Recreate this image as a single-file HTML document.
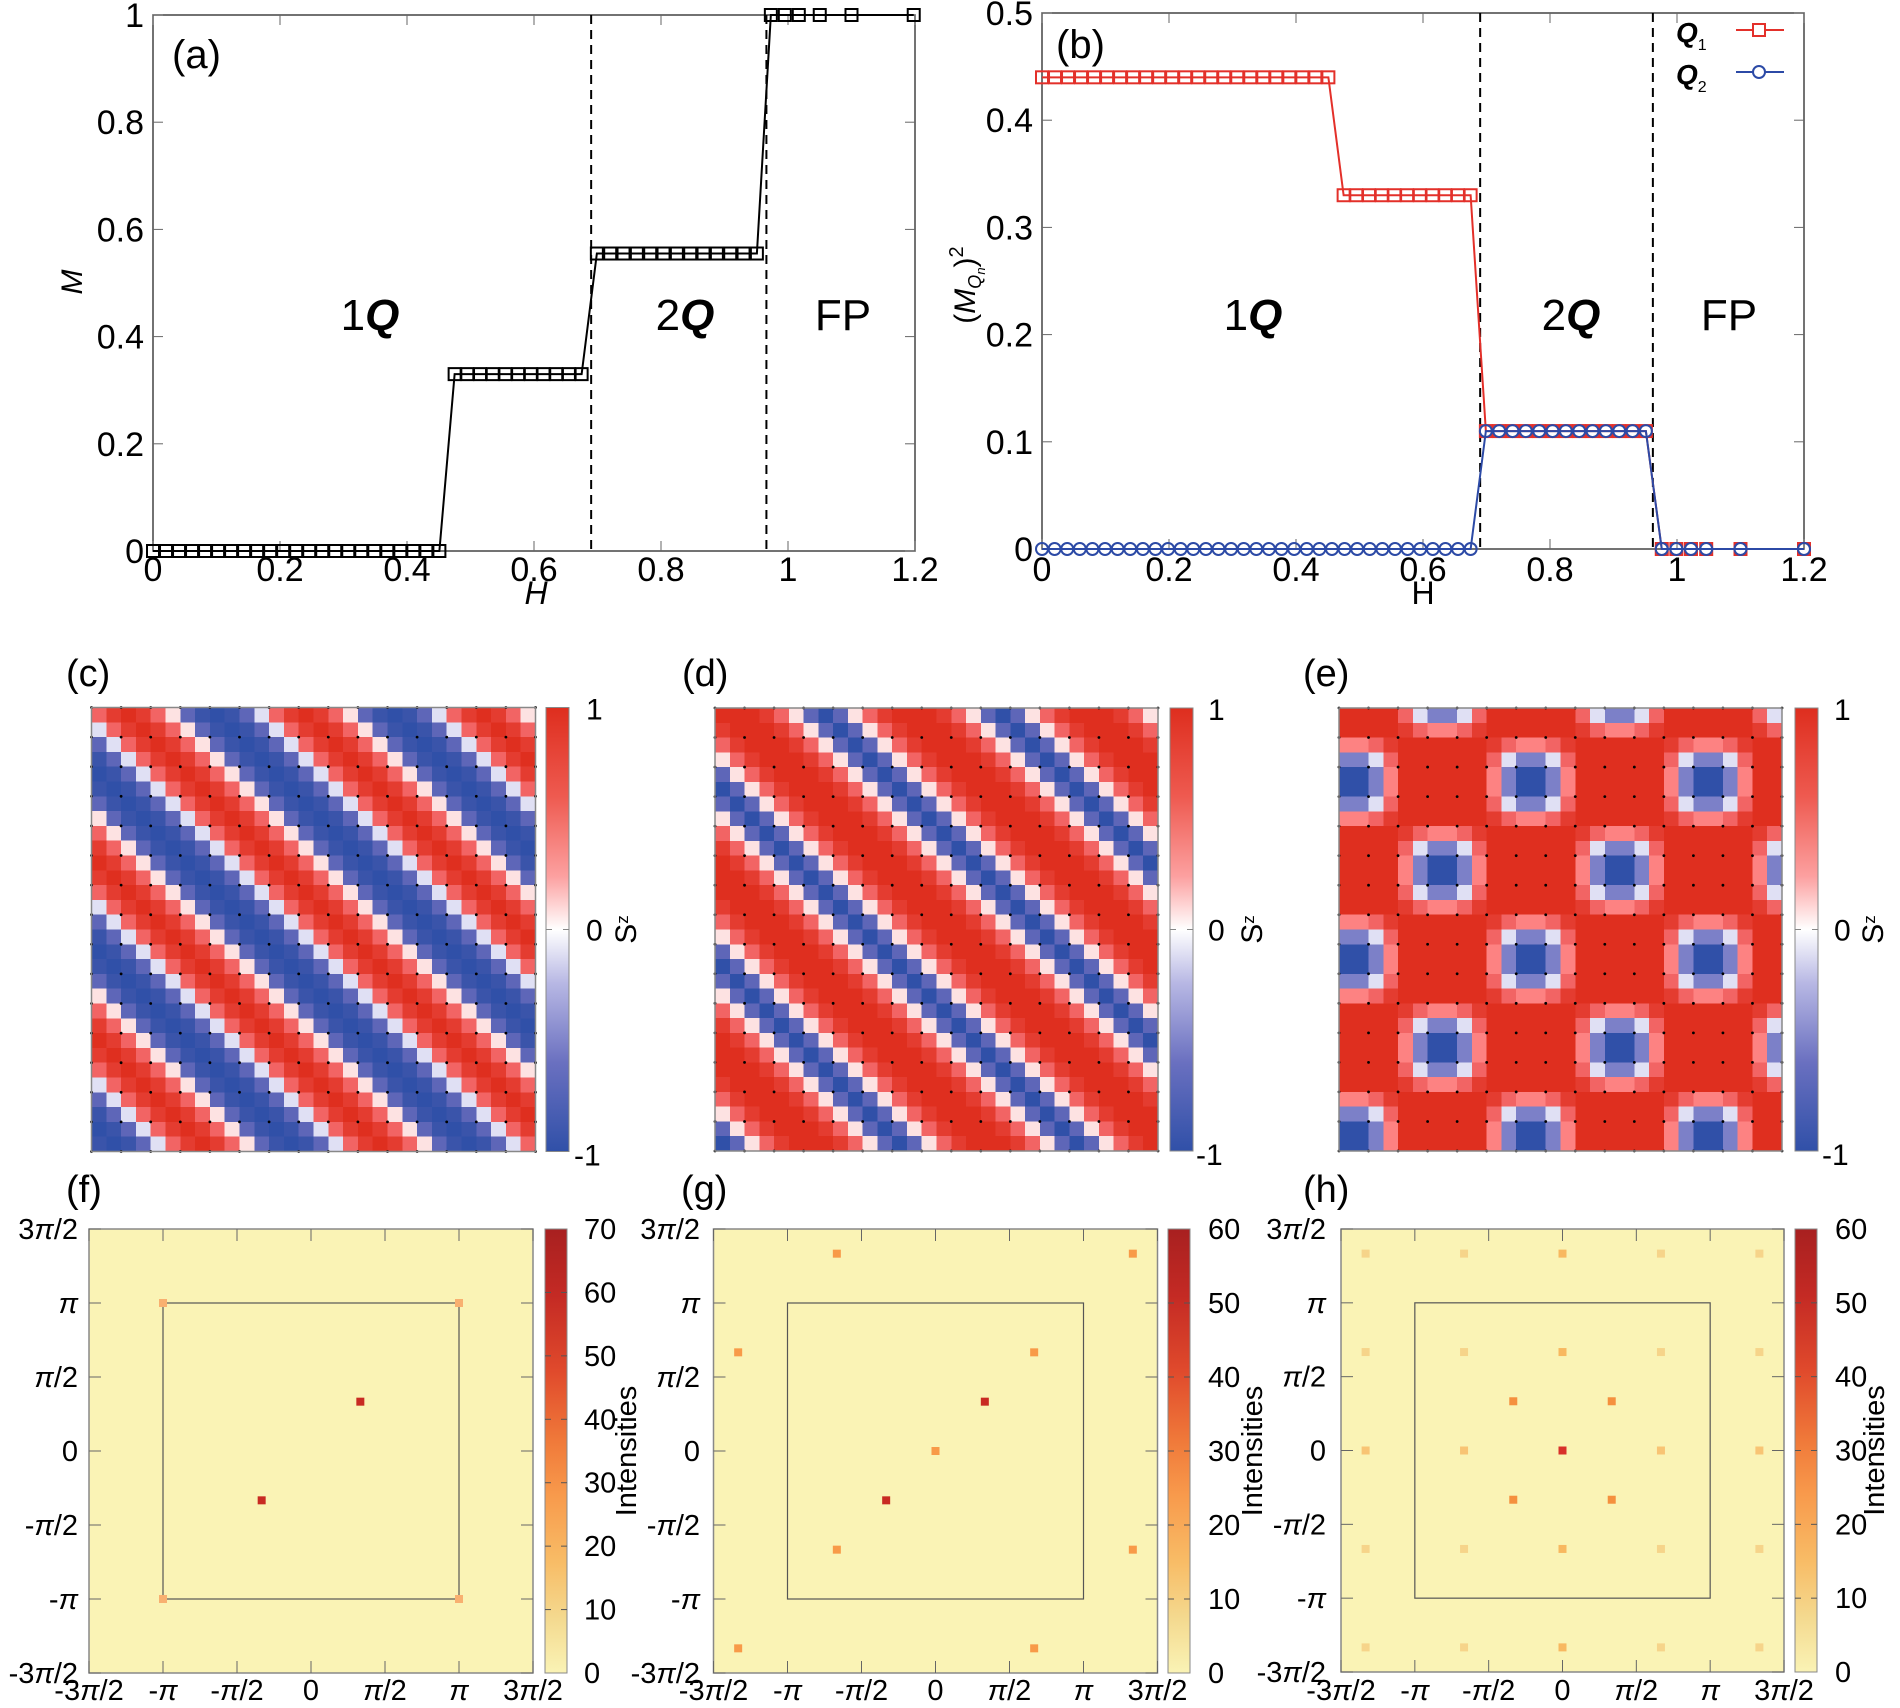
<!DOCTYPE html>
<html><head><meta charset="utf-8"><style>
html,body{margin:0;padding:0;background:#fff}
svg{display:block}
text{font-family:"Liberation Sans",Arial,sans-serif;fill:#000}
</style></head><body>
<svg id="s" xmlns="http://www.w3.org/2000/svg" width="1900" height="1708" viewBox="0 0 1900 1708">
<defs>
<linearGradient id="gsz" x1="0" y1="0" x2="0" y2="1">
<stop offset="0" stop-color="#de2e1e"/><stop offset="0.2" stop-color="#ee5a50"/><stop offset="0.38" stop-color="#fca0a0"/><stop offset="0.5" stop-color="#ffffff"/><stop offset="0.62" stop-color="#b8b8e4"/><stop offset="0.8" stop-color="#6a70c0"/><stop offset="1" stop-color="#3050a8"/>
</linearGradient>
<linearGradient id="gint" x1="0" y1="0" x2="0" y2="1">
<stop offset="0" stop-color="#a82020"/><stop offset="0.15" stop-color="#c42a24"/><stop offset="0.32" stop-color="#e04a2c"/><stop offset="0.48" stop-color="#f07a3a"/><stop offset="0.6" stop-color="#f89a4c"/><stop offset="0.75" stop-color="#f8bc66"/><stop offset="0.88" stop-color="#f4da90"/><stop offset="1" stop-color="#faf3b5"/>
</linearGradient>
</defs>
</svg>
<script>
const S=document.getElementById('s');const NS='http://www.w3.org/2000/svg';
function add(t,a,txt,p){const e=document.createElementNS(NS,t);for(const k in a)e.setAttribute(k,a[k]);if(txt!==undefined)e.textContent=txt;(p||S).appendChild(e);return e;}
function txt(x,y,s,size,anchor,extra){const a=Object.assign({x:x,y:y,'font-size':size,'text-anchor':anchor||'start'},extra||{});return add('text',a,s);}
function ptxt(x,y,s,size,anchor){const t=txt(x,y,'',size,anchor);s.split(/(π)/).forEach(p=>{if(p==='')return;add('tspan',p==='π'?{'font-style':'italic'}:{},p,t);});return t;}

/* ---------- Panel (a) ---------- */
(function(){
const L=153,R=915,T=15,B=551;
const X=h=>L+h/1.2*(R-L), Y=m=>B-m*(B-T);
add('rect',{x:L,y:T,width:R-L,height:B-T,fill:'none',stroke:'#444','stroke-width':1.5});
for(let i=0;i<=6;i++){const x=X(i*0.2);add('line',{x1:x,y1:B,x2:x,y2:B-10,stroke:'#666'});add('line',{x1:x,y1:T,x2:x,y2:T+10,stroke:'#666'});
 txt(x,581,['0','0.2','0.4','0.6','0.8','1','1.2'][i],34,'middle');}
for(let i=0;i<=5;i++){const y=Y(i*0.2);add('line',{x1:L,y1:y,x2:L+10,y2:y,stroke:'#666'});add('line',{x1:R,y1:y,x2:R-10,y2:y,stroke:'#666'});
 txt(144,y+12,['0','0.2','0.4','0.6','0.8','1'][i],34,'end');}
txt(82,282,'M',30,'middle',{'font-style':'italic',transform:'rotate(-90 82 282)'});
txt(536,604,'H',32,'middle',{'font-style':'italic'});
[0.69,0.966].forEach(h=>add('line',{x1:X(h),y1:T,x2:X(h),y2:B,stroke:'#000','stroke-width':2,'stroke-dasharray':'9,6'}));
const p=[];for(let i=0;i<23;i++)p.push([i*0.451/22,0]);for(let i=0;i<11;i++)p.push([0.475+i*0.02,0.33]);
for(let i=0;i<13;i++)p.push([0.699+i*0.021,0.555]);[0.973,0.995,1.017,1.05,1.1,1.198].forEach(h=>p.push([h,1]));
add('polyline',{points:p.map(q=>X(q[0])+','+Y(q[1])).join(' '),fill:'none',stroke:'#000','stroke-width':2});
p.forEach(q=>add('rect',{x:X(q[0])-6,y:Y(q[1])-6,width:12,height:12,fill:'none',stroke:'#000','stroke-width':2}));
txt(172,68,'(a)',40);
const lab=(x,n,b)=>{const t=txt(x,330,'',44,'middle');add('tspan',{},n,t);if(b)add('tspan',{'font-weight':'bold','font-style':'italic'},b,t);};
lab(370,'1','Q');lab(685,'2','Q');lab(843,'FP');
})();

/* ---------- Panel (b) ---------- */
(function(){
const L=1042,R=1804,T=13,B=549;
const X=h=>L+h/1.2*(R-L), Y=v=>B-v/0.5*(B-T);
add('rect',{x:L,y:T,width:R-L,height:B-T,fill:'none',stroke:'#444','stroke-width':1.5});
for(let i=0;i<=6;i++){const x=X(i*0.2);add('line',{x1:x,y1:B,x2:x,y2:B-10,stroke:'#666'});add('line',{x1:x,y1:T,x2:x,y2:T+10,stroke:'#666'});
 txt(x,581,['0','0.2','0.4','0.6','0.8','1','1.2'][i],34,'middle');}
for(let i=0;i<=5;i++){const y=Y(i*0.1);add('line',{x1:L,y1:y,x2:L+10,y2:y,stroke:'#666'});add('line',{x1:R,y1:y,x2:R-10,y2:y,stroke:'#666'});
 txt(1033,y+12,['0','0.1','0.2','0.3','0.4','0.5'][i],34,'end');}
{const t=txt(975,285,'',30,'middle',{transform:'rotate(-90 975 285)'});add('tspan',{},'(',t);add('tspan',{'font-style':'italic'},'M',t);add('tspan',{'font-size':18,'font-style':'italic',dy:6},'Q',t);add('tspan',{'font-size':13,'font-style':'italic',dy:4},'n',t);add('tspan',{dy:-10},')',t);add('tspan',{'font-size':20,dy:-12},'2',t);}
txt(1423,604,'H',32,'middle');
[0.69,0.962].forEach(h=>add('line',{x1:X(h),y1:T,x2:X(h),y2:B,stroke:'#000','stroke-width':2,'stroke-dasharray':'9,6'}));
const tail=[0.976,0.999,1.022,1.046,1.1,1.2];
const q1=[];for(let i=0;i<23;i++)q1.push([i*0.451/22,0.44]);for(let i=0;i<11;i++)q1.push([0.475+i*0.02,0.33]);
for(let i=0;i<13;i++)q1.push([0.699+i*0.021,0.11]);tail.forEach(h=>q1.push([h,0]));
const q2=[];for(let i=0;i<35;i++)q2.push([i*0.675/34,0]);for(let i=0;i<13;i++)q2.push([0.699+i*0.021,0.11]);tail.forEach(h=>q2.push([h,0]));
const red='#e3302a',blue='#2c4aa6';
add('polyline',{points:q1.map(q=>X(q[0])+','+Y(q[1])).join(' '),fill:'none',stroke:red,'stroke-width':2});
q1.forEach(q=>add('rect',{x:X(q[0])-6,y:Y(q[1])-6,width:12,height:12,fill:'none',stroke:red,'stroke-width':2}));
add('polyline',{points:q2.map(q=>X(q[0])+','+Y(q[1])).join(' '),fill:'none',stroke:blue,'stroke-width':2});
q2.forEach(q=>add('circle',{cx:X(q[0]),cy:Y(q[1]),r:6,fill:'none',stroke:blue,'stroke-width':2}));
txt(1056,58,'(b)',40);
{const t=txt(1676,42,'',28,'start',{'font-weight':'bold','font-style':'italic'});add('tspan',{},'Q',t);add('tspan',{'font-size':16,'font-weight':'normal','font-style':'normal',dy:8},'1',t);}
add('line',{x1:1736,y1:30,x2:1784,y2:30,stroke:red,'stroke-width':2});add('rect',{x:1753,y:24,width:12,height:12,fill:'#fff',stroke:red,'stroke-width':2});
{const t=txt(1676,84,'',28,'start',{'font-weight':'bold','font-style':'italic'});add('tspan',{},'Q',t);add('tspan',{'font-size':16,'font-weight':'normal','font-style':'normal',dy:8},'2',t);}
add('line',{x1:1736,y1:72,x2:1784,y2:72,stroke:blue,'stroke-width':2});add('circle',{cx:1759,cy:72,r:6,fill:'#fff',stroke:blue,'stroke-width':2});
const lab=(x,n,b)=>{const t=txt(x,330,'',44,'middle');add('tspan',{},n,t);if(b)add('tspan',{'font-weight':'bold','font-style':'italic'},b,t);};
lab(1253,'1','Q');lab(1571,'2','Q');lab(1729,'FP');
})();

/* ---------- Real-space heatmaps ---------- */
const C={R:'#df2f1f',R2:'#e43c30',P:'#f26464',LP:'#fd8282',W:'#fde2e2',WL:'#e0e0f4',LB:'#5e66b8',LB2:'#7c80c8',B:'#3050a8',B2:'#3a54aa'};
function heat(x0,y0,size,fn){const cs=size/30;const g=add('g',{'shape-rendering':'crispEdges'});
 for(let r=0;r<30;r++)for(let c=0;c<30;c++)add('rect',{x:x0+c*cs,y:y0+r*cs,width:cs+0.6,height:cs+0.6,fill:fn(r,c)},undefined,g);
 for(let i=0;i<=15;i++)for(let j=0;j<=15;j++)add('circle',{cx:x0+2*i*cs,cy:y0+2*j*cs,r:1.4,fill:'#000'});
 add('rect',{x:x0,y:y0,width:size,height:size,fill:'none',stroke:'#888','stroke-width':1.5});}
function szbar(x,y0,y1,lx,sx){add('rect',{x:x,y:y0,width:23,height:y1-y0,fill:'url(#gsz)',stroke:'#888','stroke-width':1});
 add('line',{x1:x,y1:(y0+y1)/2,x2:x+6,y2:(y0+y1)/2,stroke:'#888'});add('line',{x1:x+23,y1:(y0+y1)/2,x2:x+17,y2:(y0+y1)/2,stroke:'#888'});
 txt(lx,y0+12,'1',30);txt(lx,(y0+y1)/2+11,'0',30);txt(lx-12,y1+14,'-1',30);
 const t=txt(sx,(y0+y1)/2,'',30,'middle',{transform:`rotate(-90 ${sx} ${(y0+y1)/2})`});add('tspan',{},'S',t);add('tspan',{'font-size':17,dy:-8},'z',t);}
const seqC=['P','R2','R','R2','P','W','LB','B2','B','B2','LB','WL'];
const seqD=['R','R','R','R2','P','W','LB','B','LB','W','P','R2'];
heat(91.5,707.5,444,(r,c)=>C[seqC[((c-r)%12+12)%12]]);
heat(715,708,443,(r,c)=>C[seqD[((c-r)%12+12)%12]]);
heat(1339,708,443,(r,c)=>{let best=null;
 for(let k=-1;k<=3;k++)for(let m=-1;m<=3;m++){[[1+12*k,5+12*m],[7+12*k,11+12*m]].forEach(cc=>{const dx=Math.abs(c+0.5-cc[0]),dy=Math.abs(r+0.5-cc[1]);if(Math.max(dx,dy)<=2.5)best=[Math.min(dx,dy),Math.max(dx,dy)];});}
 if(!best)return C.R;const a=best[0],b=best[1];
 if(b==0.5)return C.B;if(b==1.5)return a==0.5?C.LB2:C.WL;if(a==0.5)return C.LP;if(a==1.5)return C.P;return C.R2;});
szbar(546,707.5,1151.5,586,636);szbar(1170,708,1151,1208,1262);szbar(1795,708,1151,1834,1883);
txt(66,686,'(c)',38);txt(682,686,'(d)',38);txt(1303,686,'(e)',38);

/* ---------- Reciprocal-space maps ---------- */
const xl=['-3π/2','-π','-π/2','0','π/2','π','3π/2'],yl=xl;
function kmap(L,T,W,pts,cbx,ticks,cbl,il,ylx){const B=T+W,R=L+W;
 add('rect',{x:L,y:T,width:W,height:W,fill:'#faf3b5',stroke:'#888','stroke-width':1.5});
 const X=v=>L+(v+1.5)/3*W, Y=v=>B-(v+1.5)/3*W;
 add('rect',{x:X(-1),y:Y(1),width:X(1)-X(-1),height:Y(-1)-Y(1),fill:'none',stroke:'#555','stroke-width':1.2});
 for(let i=0;i<=6;i++){const x=L+i*W/6,y=B-i*W/6;
  add('line',{x1:x,y1:B,x2:x,y2:B-12,stroke:'#666'});add('line',{x1:x,y1:T,x2:x,y2:T+12,stroke:'#666'});
  add('line',{x1:L,y1:y,x2:L+12,y2:y,stroke:'#666'});add('line',{x1:R,y1:y,x2:R-12,y2:y,stroke:'#666'});
  ptxt(x,1700,xl[i],29,'middle');ptxt(ylx,y+10,yl[i],29,'end');}
 pts.forEach(p=>add('rect',{x:X(p[0])-4,y:Y(p[1])-4,width:8,height:8,fill:p[2]}));
 add('rect',{x:cbx,y:T,width:22,height:W,fill:'url(#gint)',stroke:'#888','stroke-width':1});
 const n=ticks.length-1;ticks.forEach((v,i)=>{const y=B-i*W/n;if(i>0&&i<n){add('line',{x1:cbx,y1:y,x2:cbx+6,y2:y,stroke:'#555'});add('line',{x1:cbx+22,y1:y,x2:cbx+16,y2:y,stroke:'#555'});}
  txt(cbl,y+10,String(v),29);});
 txt(il,T+W/2,'Intensities',29,'middle',{transform:`rotate(-90 ${il} ${T+W/2})`});}
const O='#f89a48',DR='#c82a22',OL='#f8b860',YL='#f6d48a',OM='#f5903e';
kmap(89,1229,444,[[-1,1,'#f8b070'],[1,1,'#f8b070'],[-1,-1,'#f8b070'],[1,-1,'#f8b070'],[1/3,1/3,DR],[-1/3,-1/3,DR]],545,[0,10,20,30,40,50,60,70],584,636,78);
kmap(713.5,1229,444,[[-2/3,4/3,O],[4/3,4/3,O],[-4/3,2/3,O],[2/3,2/3,O],[0,0,O],[1/3,1/3,DR],[-1/3,-1/3,DR],[-2/3,-2/3,O],[4/3,-2/3,O],[-4/3,-4/3,O],[2/3,-4/3,O]],1168,[0,10,20,30,40,50,60],1208,1262,700);
{const pts=[];[-4/3,-2/3,0,2/3,4/3].forEach(x=>[-4/3,-2/3,0,2/3,4/3].forEach(y=>{if(x==0&&y==0)return;pts.push([x,y,(x==0)?OL:(y==0?'#f8c474':YL)]);}));
 pts.push([0,0,'#d8302a']);[[1/3,1/3],[-1/3,1/3],[1/3,-1/3],[-1/3,-1/3]].forEach(p=>pts.push([p[0],p[1],OM]));
 kmap(1341,1229,443,pts,1795,[0,10,20,30,40,50,60],1835,1884,1326);}
txt(66,1202,'(f)',38);txt(681,1202,'(g)',38);txt(1303,1202,'(h)',38);
</script>
</body></html>
